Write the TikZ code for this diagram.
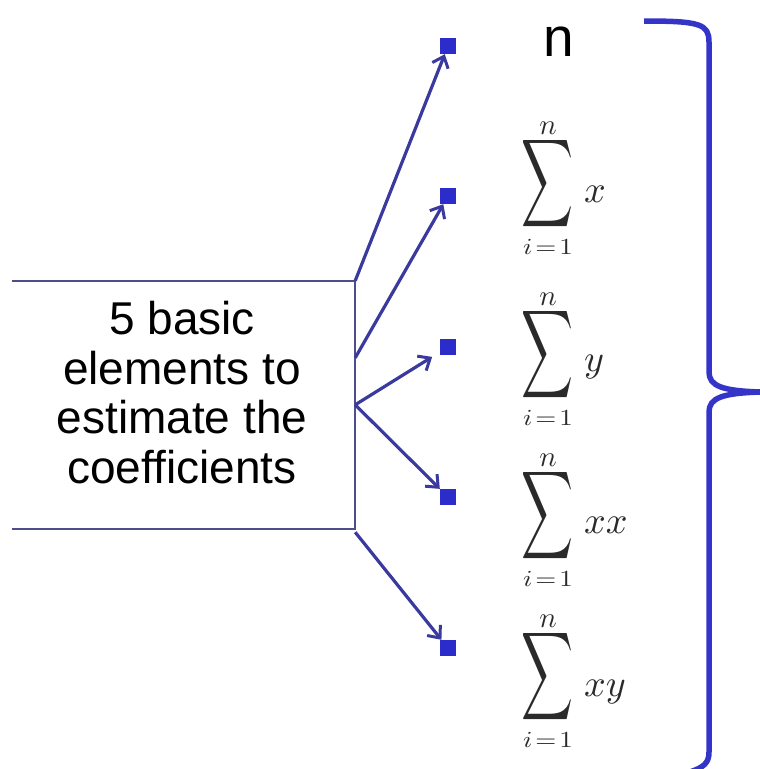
\documentclass[tikz,border=0pt]{standalone}
\usepackage{fontspec}
\setmainfont{Liberation Sans}
\usetikzlibrary{arrows.meta,calc}
\definecolor{arrowblue}{HTML}{3A3A9E}
\definecolor{sqblue}{HTML}{2C2CCC}
\definecolor{braceblue}{HTML}{3434C8}
\definecolor{boxline}{HTML}{4E4E8E}
\definecolor{mathgray}{HTML}{2A2A2A}
\begin{document}
\begin{tikzpicture}[x=1pt,y=-1pt,
  sq/.style={fill=sqblue,minimum size=16pt,inner sep=0pt},
  conn/.style={arrowblue,line width=3.2pt,-{Straight Barb[length=10pt,width=17pt,line width=3pt]}},
  lbl/.style={inner sep=0pt},
  sig/.style={inner sep=0pt,text=mathgray},
  lim/.style={inner sep=0pt,text=mathgray},
  var/.style={inner sep=0pt,anchor=base west,text=mathgray},
  brace/.style={braceblue,line width=5.5pt}]
\useasboundingbox (0,0) rectangle (760,769);
% box
\node[minimum width=343pt,minimum height=248pt,inner sep=0pt] (box) at (183.5,405) {};
\draw[boxline,line width=1.5pt] (box.north west) -- (box.north east) -- (box.south east) -- (box.south west);
\node[lbl,align=center,font=\fontsize{46}{49.5}\selectfont] (txt) at (182,392.5) {5 basic\\elements to\\estimate the\\coefficients};
% squares
\node[sq] (s1) at (448,46) {};
\node[sq] (s2) at (448,196) {};
\node[sq] (s3) at (448,347) {};
\node[sq] (s4) at (448,497) {};
\node[sq] (s5) at (448,648) {};
% origins
\coordinate (o2) at ($(box.north east)+(0,77)$);
\coordinate (o3) at ($(box.north east)+(0,124)$);
\coordinate (o5) at ($(box.south east)+(0,3)$);
% arrows
\draw[conn] (box.north east) -- (s1);
\draw[conn] (o2) -- (s2);
\draw[conn,shorten >=9pt] (o3) -- (s3);
\draw[conn] (o3) -- (s4);
\draw[conn] (o5) -- (s5);
% labels
\node[lbl,font=\fontsize{55}{60}\selectfont] (n) at (558.5,42) {n};
\foreach \k/\c/\b/\v in {2/184/202/x, 3/355/371/y, 4/516/533/xx, 5/677/696/xy}{
  \node[sig] (g\k) at (547.5,\c) {\scalebox{3.6}[6.15]{$\displaystyle\sum$}};
  \node[lim] (u\k) at ($(g\k.center)+(0.5,-56)$) {\scalebox{2.9}{$n$}};
  \node[lim] (l\k) at ($(g\k.center)+(0.5,63)$) {\scalebox{2.7}[2.3]{$i\!=\!1$}};
  \node[var] (v\k) at (584,\b) {\scalebox{3.8}{$\v$}};
}
% brace
\draw[brace] (644,21) .. controls (700,21) and (709,24) .. (709,42) -- (709,372)
  .. controls (709,386) and (722,391) .. (762,392)
  .. controls (722,393) and (709,398) .. (709,412) -- (709,752)
  .. controls (709,763) and (704,767) .. (690,772);
\end{tikzpicture}
\end{document}
